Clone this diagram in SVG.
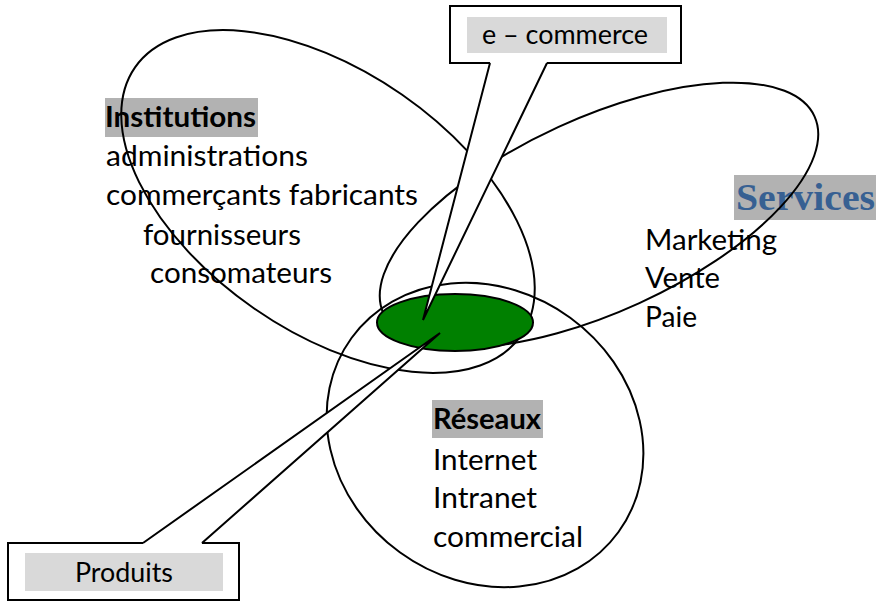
<svg xmlns="http://www.w3.org/2000/svg" width="876" height="604" viewBox="0 0 876 604">
<style>
.ring{fill:none;stroke:#000;stroke-width:2}
.t{font-family:Lato,"Liberation Sans",sans-serif;font-size:28px;fill:#000}
.b{font-weight:bold}
.c{font-size:27px}
.hd{fill:#b2b2b2}
.hl{fill:#d9d9d9}
.box{fill:#fff;stroke:#000;stroke-width:2}
.cover{fill:#fff;stroke:none}
.ptr{fill:none;stroke:#000;stroke-width:2;stroke-linejoin:miter}
</style>
<rect width="876" height="604" fill="#fff"/>
<g id="institutions">
<rect class="hd" x="105" y="98" width="153" height="39"/>
<text class="t b" x="105" y="127" textLength="151" lengthAdjust="spacingAndGlyphs">Institutions</text>
<text class="t" x="106" y="166" textLength="202" lengthAdjust="spacingAndGlyphs">administrations</text>
<text class="t" x="106" y="205" textLength="312" lengthAdjust="spacingAndGlyphs">commerçants fabricants</text>
<text class="t" x="143" y="245" textLength="158" lengthAdjust="spacingAndGlyphs">fournisseurs</text>
<text class="t" x="150" y="283" textLength="182" lengthAdjust="spacingAndGlyphs">consomateurs</text>
<ellipse class="ring" cx="328" cy="201.5" rx="235" ry="130" transform="rotate(34.8 328 201.5)"/>
</g>
<g id="services">
<rect class="hd" x="734" y="175" width="142" height="45"/>
<text x="736" y="210" textLength="139" lengthAdjust="spacingAndGlyphs" style="font-family:'Liberation Serif',serif;font-weight:bold;font-size:37px;fill:#376092">Services</text>
<text class="t" x="645" y="250" textLength="132" lengthAdjust="spacingAndGlyphs">Marketing</text>
<text class="t" x="645" y="288" textLength="75" lengthAdjust="spacingAndGlyphs">Vente</text>
<text class="t" x="645" y="327" textLength="52" lengthAdjust="spacingAndGlyphs">Paie</text>
<ellipse class="ring" cx="599" cy="215" rx="237" ry="97" transform="rotate(-24.6 599 215)"/>
</g>
<g id="reseaux">
<rect class="hd" x="432" y="400" width="111" height="38"/>
<text class="t b" x="433" y="429" textLength="108" lengthAdjust="spacingAndGlyphs">Réseaux</text>
<text class="t" x="433" y="470" textLength="104" lengthAdjust="spacingAndGlyphs">Internet</text>
<text class="t" x="433" y="508" textLength="104" lengthAdjust="spacingAndGlyphs">Intranet</text>
<text class="t" x="433" y="547" textLength="150" lengthAdjust="spacingAndGlyphs">commercial</text>
<ellipse class="ring" cx="485" cy="435" rx="165" ry="145" transform="rotate(36 485 435)"/>
</g>
<g id="core">
<ellipse cx="455" cy="322.5" rx="78" ry="28.5" fill="#008000" stroke="#000" stroke-width="2"/>
</g>
<g id="ecommerce">
<rect class="box" x="450" y="6" width="231" height="57"/>
<rect class="hl" x="467" y="17" width="200" height="36"/>
<text class="t c" x="482" y="44" textLength="166" lengthAdjust="spacingAndGlyphs">e – commerce</text>
</g>
<g id="produits">
<rect class="box" x="8" y="543" width="231" height="57"/>
<rect class="hl" x="25" y="553" width="198" height="38"/>
<text class="t c" x="75" y="582" textLength="98" lengthAdjust="spacingAndGlyphs">Produits</text>
</g>
<g id="connectors">
<polygon class="cover" points="490.5,60 546.5,60 547,63 423,320 490,63"/>
<polyline class="ptr" points="490,63 423,320 547,63"/>
<polygon class="cover" points="143.5,546 201.5,546 202,543 440,333 143,543"/>
<polyline class="ptr" points="143,543 440,333 202,543"/>
</g>
</svg>
